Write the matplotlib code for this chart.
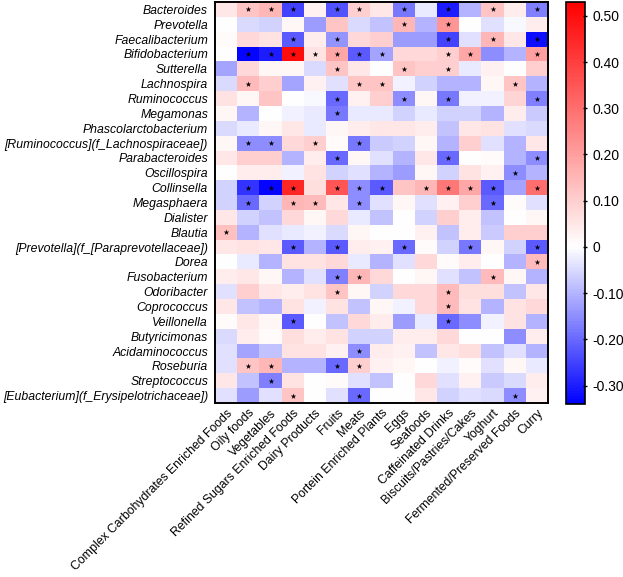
import numpy as np
import matplotlib
matplotlib.use("Agg")
import matplotlib.pyplot as plt
from matplotlib.colors import LinearSegmentedColormap, Normalize

plt.rcParams['font.family'] = ['Liberation Sans', 'DejaVu Sans']

# bacteria (rows, top to bottom)
taxa = [
    "Bacteroides", "Prevotella", "Faecalibacterium", "Bifidobacterium", "Sutterella",
    "Lachnospira", "Ruminococcus", "Megamonas", "Phascolarctobacterium",
    "[Ruminococcus](f_Lachnospiraceae])", "Parabacteroides", "Oscillospira", "Collinsella",
    "Megasphaera", "Dialister", "Blautia", "[Prevotella](f_[Paraprevotellaceae])", "Dorea",
    "Fusobacterium", "Odoribacter", "Coprococcus", "Veillonella", "Butyricimonas",
    "Acidaminococcus", "Roseburia", "Streptococcus", "[Eubacterium](f_Erysipelotrichaceae])",
]

# food groups (columns)
foods = [
    "Complex Carbohydrates Enriched Foods", "Oily foods", "Vegetables",
    "Refined Sugars Enriched Foods", "Dairy Products", "Fruits", "Meats",
    "Portein Enriched Plants", "Eggs", "Seafoods", "Caffeinated Drinks",
    "Biscuits/Pastries/Cakes", "Yoghurt", "Fermented/Preserved Foods", "Curry",
]

# correlation coefficients
corr = [
    [0.05, 0.12, 0.15, -0.25, 0.03, -0.23, 0.10, 0.05, -0.18, -0.03, -0.30, -0.10, 0.12, 0.04, -0.17],
    [0.00, -0.05, -0.06, 0.02, -0.13, 0.12, -0.05, -0.08, 0.15, -0.10, 0.22, 0.00, -0.04, -0.01, 0.04],
    [0.01, 0.08, 0.06, -0.22, 0.04, -0.14, 0.08, 0.10, -0.13, -0.13, -0.25, -0.04, 0.15, 0.05, -0.32],
    [0.00, -0.33, -0.30, 0.50, 0.06, 0.18, -0.22, -0.12, 0.08, 0.08, 0.10, 0.18, -0.15, -0.10, 0.20],
    [-0.12, 0.08, 0.02, 0.02, -0.05, 0.12, 0.05, 0.00, 0.12, 0.10, 0.10, -0.03, 0.03, 0.00, 0.10],
    [-0.05, 0.14, 0.10, -0.12, 0.03, -0.04, 0.12, 0.12, -0.02, -0.06, -0.10, -0.10, 0.02, 0.12, -0.10],
    [0.06, 0.02, 0.12, 0.00, -0.01, -0.20, 0.03, 0.10, -0.15, 0.02, -0.18, -0.02, -0.02, 0.09, -0.17],
    [0.02, -0.10, 0.00, -0.02, -0.03, -0.18, -0.03, -0.03, -0.06, -0.03, -0.06, -0.06, -0.10, 0.04, -0.07],
    [-0.05, -0.03, 0.02, 0.05, -0.03, 0.02, 0.04, 0.05, 0.05, 0.04, -0.08, 0.05, 0.06, -0.04, -0.05],
    [0.02, -0.15, -0.15, 0.08, 0.10, 0.01, -0.18, -0.07, -0.06, 0.02, -0.10, 0.10, -0.04, -0.10, 0.05],
    [0.05, 0.10, 0.10, -0.10, 0.04, -0.20, 0.02, -0.04, -0.10, 0.05, -0.20, 0.00, 0.01, -0.10, -0.15],
    [0.00, 0.04, 0.04, -0.02, 0.06, -0.06, -0.04, -0.10, -0.13, 0.02, -0.06, 0.06, 0.03, -0.15, -0.10],
    [-0.06, -0.27, -0.33, 0.45, 0.07, 0.35, -0.15, -0.22, 0.12, 0.15, 0.28, 0.18, -0.22, -0.12, 0.30],
    [-0.06, -0.20, -0.06, 0.15, 0.14, 0.05, -0.15, -0.04, 0.02, -0.04, 0.03, 0.10, -0.20, 0.01, -0.04],
    [0.05, -0.06, -0.08, 0.08, 0.02, 0.08, -0.03, -0.08, 0.00, -0.06, 0.10, 0.04, -0.08, 0.00, 0.02],
    [0.13, -0.10, -0.04, -0.03, -0.02, -0.05, 0.02, 0.00, 0.00, 0.03, -0.08, 0.04, -0.07, 0.10, 0.10],
    [0.05, 0.06, 0.05, -0.22, -0.10, -0.22, 0.04, 0.03, -0.20, 0.01, -0.06, -0.18, 0.02, -0.06, -0.22],
    [0.00, -0.03, -0.10, 0.06, 0.06, 0.08, -0.03, -0.10, -0.04, 0.08, 0.01, 0.04, 0.00, -0.10, 0.14],
    [0.04, 0.05, 0.02, -0.10, -0.04, -0.17, 0.15, 0.08, 0.00, 0.02, -0.04, -0.08, 0.14, 0.02, -0.10],
    [-0.04, 0.10, 0.05, 0.04, 0.06, 0.12, 0.02, -0.06, 0.08, 0.08, 0.14, 0.07, 0.07, -0.08, 0.05],
    [0.05, -0.08, -0.10, 0.06, -0.02, 0.06, -0.08, 0.02, -0.02, 0.08, 0.14, 0.06, -0.10, 0.06, 0.08],
    [0.01, 0.05, 0.02, -0.22, 0.00, -0.08, 0.08, 0.04, -0.13, -0.03, -0.20, -0.15, -0.02, 0.06, -0.10],
    [-0.05, 0.04, 0.01, 0.07, 0.04, 0.06, -0.06, -0.06, 0.04, 0.04, 0.08, 0.00, 0.00, -0.15, 0.04],
    [-0.04, -0.12, -0.08, 0.06, 0.06, 0.03, -0.15, 0.04, 0.03, -0.08, 0.05, 0.07, -0.08, -0.04, -0.10],
    [-0.04, 0.12, 0.15, -0.10, -0.10, -0.20, 0.10, 0.03, 0.02, 0.00, -0.02, 0.01, -0.04, 0.02, -0.03],
    [0.05, -0.08, -0.17, 0.06, 0.00, 0.01, -0.04, -0.08, 0.00, 0.08, -0.04, 0.03, -0.07, -0.05, 0.04],
    [-0.04, -0.13, -0.04, 0.12, 0.00, -0.04, -0.20, 0.00, 0.00, 0.05, -0.06, -0.04, -0.05, -0.15, 0.03],
]

# significant cells (column indices per row)
signif = [
    [1, 2, 3, 5, 6, 8, 10, 12, 14],
    [8, 10],
    [3, 5, 10, 12, 14],
    [1, 2, 3, 4, 5, 6, 7, 10, 11, 14],
    [5, 8, 10],
    [1, 6, 7, 13],
    [5, 8, 10, 14],
    [5],
    [],
    [1, 2, 4, 6],
    [5, 10, 14],
    [13],
    [1, 2, 3, 5, 6, 7, 9, 10, 11, 12, 14],
    [1, 3, 4, 6, 12],
    [],
    [0],
    [3, 5, 8, 11, 14],
    [14],
    [5, 6, 12],
    [5, 10],
    [10],
    [3, 10],
    [],
    [6],
    [1, 2, 5, 6],
    [2],
    [3, 6, 13],
]

cbar_ticks = [0.5, 0.4, 0.3, 0.2, 0.1, 0, -0.1, -0.2, -0.3]
cbar_labels = ["0.50", "0.40", "0.30", "0.20", "0.10", "0", "-0.10", "-0.20", "-0.30"]

vmin, vmax = -0.34, 0.53
mid = (0 - vmin) / (vmax - vmin)
cmap = LinearSegmentedColormap.from_list(
    "bwr_custom", [(0.0, "#0000FF"), (mid, "#FFFFFF"), (1.0, "#FF0000")])
norm = Normalize(vmin=vmin, vmax=vmax)

data = np.array(corr)
nrow, ncol = data.shape

fig = plt.figure(figsize=(6.23, 5.77), dpi=100)
ax = fig.add_axes([215 / 623, 1 - 403 / 577, 333 / 623, 401 / 577])
im = ax.pcolormesh(np.arange(ncol + 1), np.arange(nrow + 1), data, cmap=cmap, norm=norm)
ax.set_xlim(0, ncol)
ax.set_ylim(nrow, 0)

sx, sy = [], []
for r, cols in enumerate(signif):
    for c in cols:
        sx.append(c + 0.5)
        sy.append(r + 0.5)
ax.scatter(sx, sy, marker="*", s=18, color="black", linewidths=0, zorder=3)

ax.set_yticks(np.arange(nrow) + 0.5)
ax.set_yticklabels(taxa, fontsize=8.8, style="italic")
ax.set_xticks(np.arange(ncol) + 0.5)
ax.set_xticklabels(foods, fontsize=8.8, rotation=45, ha="right", rotation_mode="anchor")
ax.tick_params(axis="y", length=0, pad=5)
ax.tick_params(axis="x", length=0, pad=3)
for s in ax.spines.values():
    s.set_linewidth(1.4)

cax = fig.add_axes([566 / 623, 1 - 404 / 577, 19 / 623, 402 / 577])
cb = fig.colorbar(im, cax=cax, ticks=cbar_ticks)
cb.ax.set_yticklabels(cbar_labels, fontsize=10)
cb.ax.tick_params(length=3, width=1, direction="inout", pad=4)
cb.outline.set_linewidth(1.2)

fig.savefig("out.png", dpi=100)
